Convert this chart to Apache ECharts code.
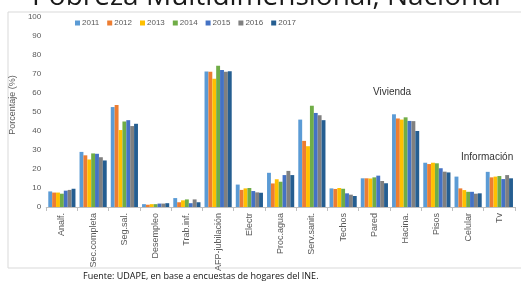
<!DOCTYPE html>
<html>
<head>
<meta charset="utf-8">
<script src="https://cdn.jsdelivr.net/npm/echarts@6/dist/echarts.min.js"></script>
<style>
  html, body { margin: 0; padding: 0; background: #fff; }
  #chart { width: 521px; height: 284px; }
</style>
</head>
<body>
<div id="chart"></div>
<script>
// categories and values
const categories = ['Analf.', 'Sec.completa', 'Seg.sal.', 'Desempleo', 'Trab.inf.', 'AFP-jubilación', 'Electr',
  'Proc.agua', 'Serv.sanit.', 'Techos', 'Pared', 'Hacina.', 'Pisos', 'Celular', 'Tv'];
const years = ['2011', '2012', '2013', '2014', '2015', '2016', '2017'];
const colors = ['#5B9BD5', '#ED7D31', '#FFC000', '#70AD47', '#4472C4', '#808080', '#255E91'];

const v2011 = [8.2, 29.0, 52.6, 1.5, 4.7, 71.3, 11.8, 18.0, 46.0, 9.8, 15.1, 48.8, 23.3, 16.0, 18.5];
const v2012 = [7.6, 27.2, 53.7, 1.2, 2.5, 71.2, 9.0, 12.4, 34.8, 9.5, 15.1, 46.6, 22.6, 9.8, 15.6];
const v2013 = [7.6, 25.0, 40.5, 1.5, 3.5, 67.5, 9.8, 14.6, 32.0, 10.0, 15.0, 46.0, 23.3, 8.9, 16.0];
const v2014 = [7.0, 28.2, 45.0, 1.5, 4.0, 74.3, 10.0, 13.3, 53.3, 9.6, 15.6, 47.2, 23.0, 8.0, 16.3];
const v2015 = [8.6, 28.0, 45.7, 1.8, 2.0, 72.1, 8.4, 16.8, 49.5, 7.2, 16.5, 45.3, 20.4, 8.0, 14.7];
const v2016 = [9.0, 26.2, 42.6, 1.8, 4.0, 71.2, 7.7, 19.0, 48.3, 6.5, 13.7, 45.2, 18.6, 7.0, 16.8];
const v2017 = [9.6, 24.5, 43.8, 2.0, 2.5, 71.5, 7.5, 16.8, 45.7, 5.8, 12.5, 40.0, 18.2, 7.2, 15.1];
const seriesValues = [v2011, v2012, v2013, v2014, v2015, v2016, v2017];

const yTicks = { min: 0, max: 100, interval: 10 };

const chart = echarts.init(document.getElementById('chart'));

chart.setOption({
  animation: false,
  color: colors,
  textStyle: { fontFamily: 'Liberation Sans, Arial, sans-serif' },
  title: {
    text: 'Pobreza Multidimensional, Nacional',
    left: 27,
    top: -22,
    textStyle: { fontFamily: 'Open Sans', fontSize: 28, fontWeight: 'normal', color: '#1a1a1a' }
  },
  legend: {
    data: years,
    top: 14,
    left: 70,
    itemWidth: 5,
    itemHeight: 5,
    itemGap: 8,
    icon: 'rect',
    textStyle: { fontSize: 8, color: '#595959', padding: [0, 0, 0, -3] }
  },
  graphic: [
    { type: 'rect', shape: { x: 8, y: 12, width: 520, height: 256 }, style: { fill: 'none', stroke: '#d9d9d9', lineWidth: 1 }, z: -1 },
    { type: 'text', left: 373, top: 87, style: { text: 'Vivienda', fontSize: 10, fill: '#333', fontFamily: 'Liberation Sans' } },
    { type: 'text', left: 461, top: 152, style: { text: 'Información', fontSize: 10, fill: '#333', fontFamily: 'Liberation Sans' } },
    { type: 'text', left: 83, top: 272, style: { text: 'Fuente: UDAPE, en base a encuestas de hogares del INE.', fontSize: 9, fill: '#111', fontFamily: 'Open Sans' } }
  ],
  grid: { left: 42, right: 6, top: 17, bottom: 77 },
  xAxis: {
    type: 'category',
    data: categories,
    axisLine: { lineStyle: { color: '#bfbfbf' } },
    axisTick: { show: true, length: 4, lineStyle: { color: '#bfbfbf' } },
    axisLabel: { rotate: 90, fontSize: 9, color: '#595959', margin: 6, interval: 0 }
  },
  yAxis: {
    type: 'value',
    min: yTicks.min,
    max: yTicks.max,
    interval: yTicks.interval,
    name: 'Porcentaje (%)',
    nameLocation: 'middle',
    nameGap: 18,
    nameTextStyle: { fontSize: 9, color: '#595959', padding: [0, 0, 0, 14] },
    axisLine: { show: false },
    axisTick: { show: false },
    splitLine: { show: false },
    axisLabel: { fontSize: 8, color: '#595959', margin: 5 }
  },
  series: years.map((y, i) => ({
    name: y,
    type: 'bar',
    data: seriesValues[i],
    barGap: '0%',
    barCategoryGap: '13%'
  }))
});
</script>
</body>
</html>
